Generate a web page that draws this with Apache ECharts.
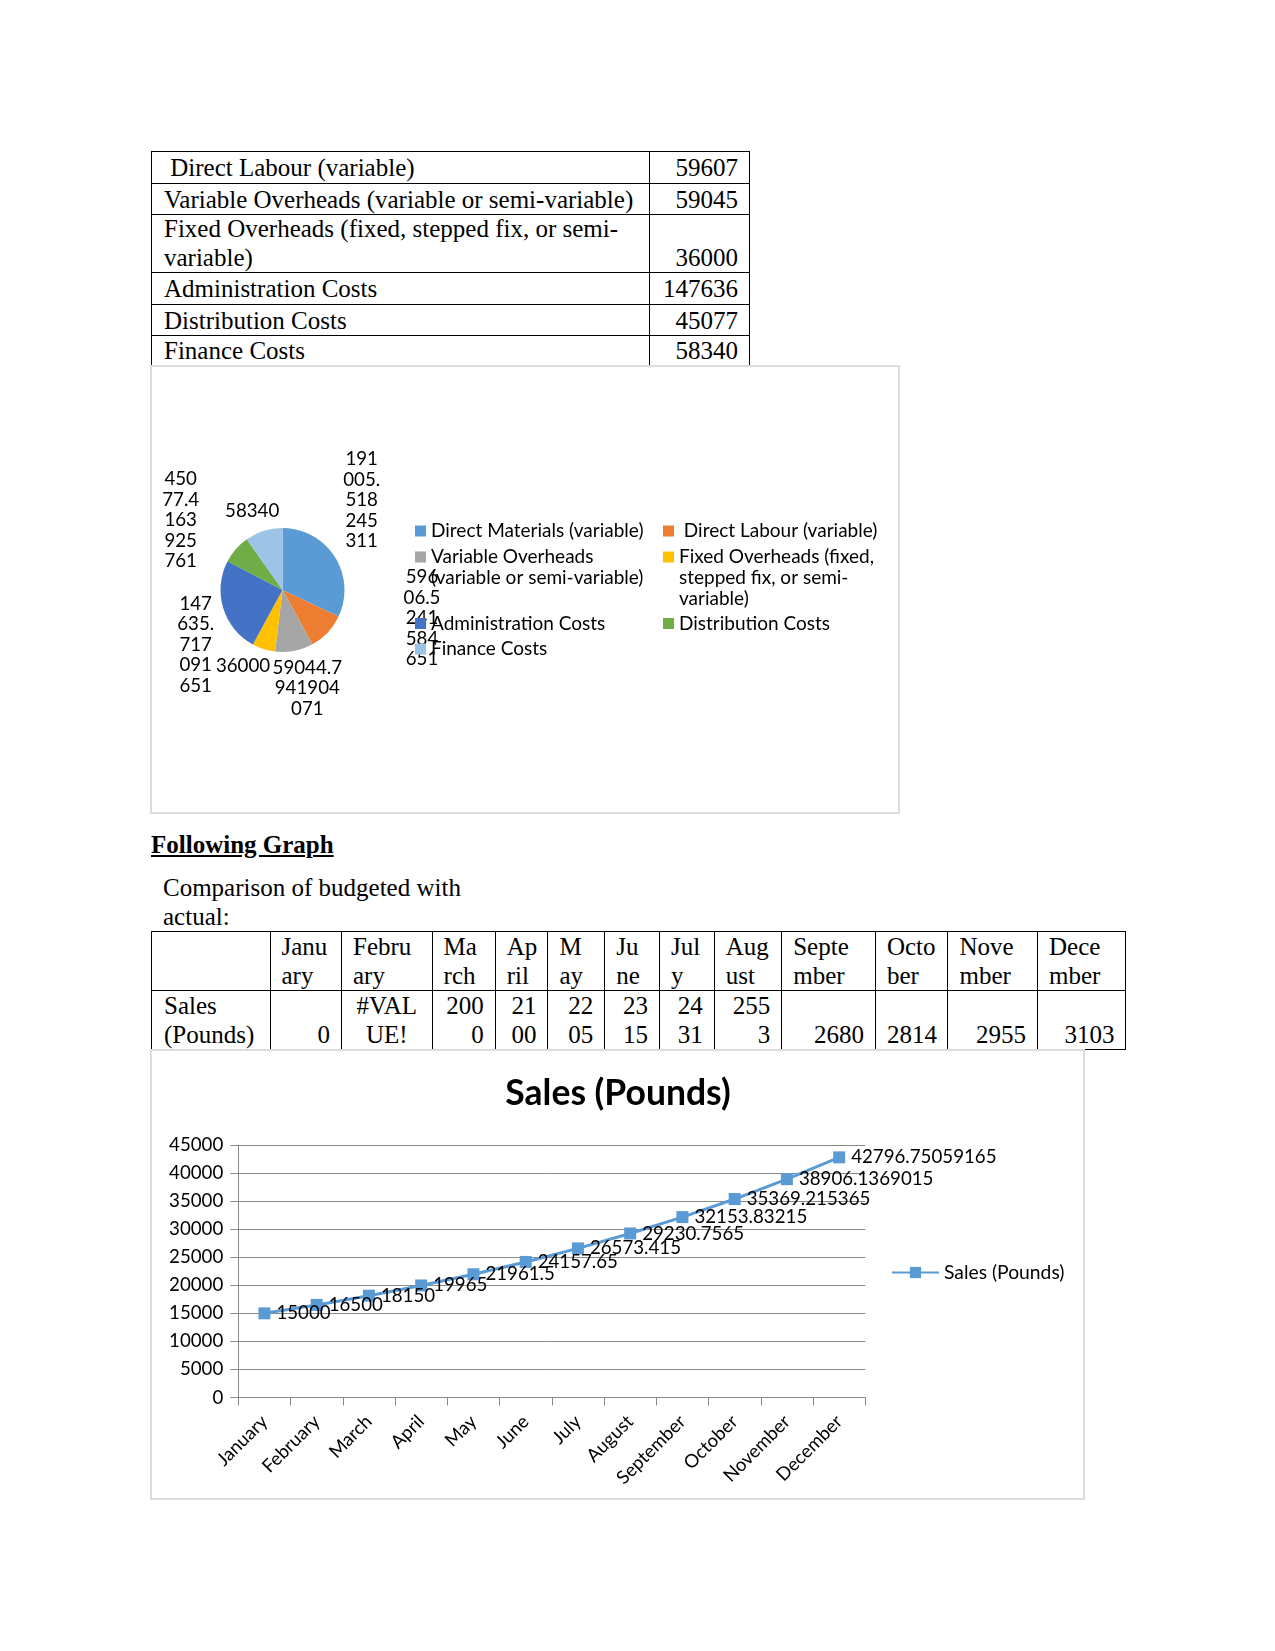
<!DOCTYPE html>
<html>
<head>
<meta charset="utf-8">
<script src="https://cdn.jsdelivr.net/npm/echarts@6/dist/echarts.min.js"></script>
<style>
html,body{margin:0;padding:0;background:#fff;}
body{width:1275px;height:1651px;position:relative;overflow:hidden;font-family:'Liberation Serif','Times New Roman',serif;color:#000;}
.cell{position:absolute;box-sizing:border-box;border-right:1px solid #000;border-bottom:1px solid #000;display:flex;flex-direction:column;justify-content:flex-end;font-size:25px;line-height:28.5px;white-space:pre;padding:0 11px 0 12px;overflow:visible;}
.txt{position:absolute;font-size:25px;line-height:28.5px;white-space:pre;}
.box{position:absolute;box-sizing:border-box;border:2px solid #dcdcdc;}
.chart{position:absolute;}
</style>
</head>
<body>
<div id="t1"></div>
<div class="txt" style="left:151px;top:831px;font-weight:bold;text-decoration:underline;">Following Graph</div>
<div class="txt" style="left:163px;top:874px;">Comparison of budgeted with
actual:</div>
<div id="t2"></div>
<div class="box" style="left:150px;top:365px;width:750px;height:449px;"></div>
<div class="box" style="left:150px;top:1049px;width:935px;height:451px;"></div>
<div id="pie" class="chart" style="left:151px;top:365px;width:749px;height:449px;"></div>
<div id="line" class="chart" style="left:151px;top:1050px;width:934px;height:449px;"></div>
<script>
// ---------- data ----------
const costLabels = [' Direct Labour (variable)', 'Variable Overheads (variable or semi-variable)', 'Fixed Overheads (fixed, stepped fix, or semi-\nvariable)', 'Administration Costs', 'Distribution Costs', 'Finance Costs'];
const costValues = ['59607', '59045', '36000', '147636', '45077', '58340'];

const pieNames = ['Direct Materials (variable)', ' Direct Labour (variable)', 'Variable Overheads (variable or semi-variable)', 'Fixed Overheads (fixed, stepped fix, or semi-variable)', 'Administration Costs', 'Distribution Costs', 'Finance Costs'];
const pieValues = [191005.518245311, 59606.5241584651, 59044.7941904071, 36000, 147635.717091651, 45077.4163925761, 58340];
const pieLegendText = ['Direct Materials (variable)', ' Direct Labour (variable)', 'Variable Overheads\n(variable or semi-variable)', 'Fixed Overheads (fixed,\nstepped fix, or semi-\nvariable)', 'Administration Costs', 'Distribution Costs', 'Finance Costs'];

const tableRowHead = 'Sales\n(Pounds)';
const monthHeaders = ['Janu\nary', 'Febru\nary', 'Ma\nrch', 'Ap\nril', 'M\nay', 'Ju\nne', 'Jul\ny', 'Aug\nust', 'Septe\nmber', 'Octo\nber', 'Nove\nmber', 'Dece\nmber'];
const salesTableCells = ['0', '#VAL\nUE!', '200\n0', '21\n00', '22\n05', '23\n15', '24\n31', '255\n3', '2680', '2814', '2955', '3103'];

const months = ['January', 'February', 'March', 'April', 'May', 'June', 'July', 'August', 'September', 'October', 'November', 'December'];
const sales = [15000, 16500, 18150, 19965, 21961.5, 24157.65, 26573.415, 29230.7565, 32153.83215, 35369.215365, 38906.1369015, 42796.75059165];
const yMin = 0, yMax = 45000, yStep = 5000;

// ---------- layout ----------
const t1Cols = [151, 649, 749];
const t1Rows = [151, 182.5, 214, 272, 303.5, 335, 365.5];
const t2Cols = [151, 269.5, 341, 431.6, 494.8, 547.5, 604.3, 659, 713.8, 781.2, 874.9, 947.5, 1037, 1125.4];
const t2Rows = [931, 990, 1049];

function cell(parent, x0, x1, y0, y1, text, align, first, top) {
  const d = document.createElement('div');
  d.className = 'cell';
  d.style.left = x0 + 'px'; d.style.top = y0 + 'px';
  d.style.width = (x1 - x0 + 1) + 'px'; d.style.height = (y1 - y0 + 1) + 'px';
  if (first) d.style.borderLeft = '1px solid #000';
  if (top) d.style.borderTop = '1px solid #000';
  d.style.textAlign = align;
  d.textContent = text;
  parent.appendChild(d);
}
const t1 = document.getElementById('t1');
costLabels.forEach((lab, i) => {
  cell(t1, t1Cols[0], t1Cols[1], t1Rows[i], t1Rows[i + 1], lab, 'left', true, i === 0);
  cell(t1, t1Cols[1], t1Cols[2], t1Rows[i], t1Rows[i + 1], costValues[i], 'right', false, i === 0);
});
const t2 = document.getElementById('t2');
cell(t2, t2Cols[0], t2Cols[1], t2Rows[0], t2Rows[1], '', 'left', true, true);
cell(t2, t2Cols[0], t2Cols[1], t2Rows[1], t2Rows[2], tableRowHead, 'left', true, false);
monthHeaders.forEach((h, i) => {
  cell(t2, t2Cols[i + 1], t2Cols[i + 2], t2Rows[0], t2Rows[1], h, 'left', false, true);
  const v = salesTableCells[i];
  cell(t2, t2Cols[i + 1], t2Cols[i + 2], t2Rows[1], t2Rows[2], v, v.charAt(0) === '#' ? 'center' : 'right', false, false);
});

// ---------- pie ----------
const pieColors = ['#5B9BD5', '#ED7D31', '#A5A5A5', '#FFC000', '#4472C4', '#70AD47', '#9DC3E6'];
const pieChunk = [3, 3, 6, 0, 3, 3, 0];
const pieLabelPos = [[210.7, 135], [271, 253], [156.3, 323.3], [92, 300.7], [44.7, 279.7], [29.7, 155], [101.2, 146]];
const legendPos = [[264, 166], [512, 166], [264, 192], [512, 192], [264, 258.5], [512, 258.5], [264, 284]];
const LH = 20.7;

function chunkDigits(s, n) {
  if (!n) return s;
  const out = []; let cur = ''; let d = 0;
  for (const ch of s) {
    if (ch === '.') { cur += ch; continue; }
    if (d === n) { out.push(cur); cur = ''; d = 0; }
    cur += ch; d++;
  }
  if (cur) out.push(cur);
  return out.join('\n');
}

const pieLegends = pieNames.map((name, i) => {
  const n = pieLegendText[i].split('\n').length;
  // leading blank lines keep the first text line level with the colour key
  const shown = '\n'.repeat(n - 1) + pieLegendText[i];
  return {
    data: [name],
    left: legendPos[i][0],
    top: legendPos[i][1] - (2 * n - 1) * LH / 2,
    padding: 0,
    icon: 'rect',
    itemWidth: 11,
    itemHeight: 11,
    formatter: () => shown,
    textStyle: { fontFamily: 'Lato', fontSize: 19, lineHeight: LH, color: '#000', backgroundColor: 'transparent' },
    z: 10
  };
});

const pie = echarts.init(document.getElementById('pie'));
pie.setOption({
  animation: false,
  color: pieColors,
  legend: pieLegends,
  series: [{
    type: 'pie',
    center: [131.5, 225],
    radius: 62,
    startAngle: 90,
    clockwise: true,
    avoidLabelOverlap: false,
    data: pieNames.map((n, i) => ({ name: n, value: pieValues[i] })),
    label: {
      show: true,
      position: 'outside',
      formatter: p => chunkDigits(String(p.value), pieChunk[p.dataIndex]),
      fontFamily: 'Lato', fontSize: 18.7, lineHeight: 20.5, color: '#000', align: 'center'
    },
    labelLine: { show: false },
    labelLayout: p => ({ x: pieLabelPos[p.dataIndex][0], y: pieLabelPos[p.dataIndex][1], align: 'center', verticalAlign: 'middle' }),
    itemStyle: { borderWidth: 0 },
    emphasis: { disabled: true }
  }]
});

// ---------- line ----------
const axisGray = '#898989';
const line = echarts.init(document.getElementById('line'));
line.setOption({
  animation: false,
  title: {
    text: 'Sales (Pounds)', left: 'center', top: 26, padding: 0,
    textStyle: { fontFamily: 'Lato', fontWeight: 'bold', fontSize: 35.5, color: '#000' }
  },
  legend: {
    data: ['Sales (Pounds)'], left: 740, top: 213, padding: 0,
    itemWidth: 47, itemHeight: 14,
    textStyle: { fontFamily: 'Lato', fontSize: 19.3, color: '#000' }
  },
  grid: { left: 87.3, top: 95, width: 627, height: 252.5, containLabel: false, outerBoundsMode: 'none' },
  xAxis: {
    type: 'category', data: months, boundaryGap: true,
    axisLine: { show: true, lineStyle: { color: axisGray, width: 1 } },
    axisTick: { show: true, length: 8, interval: 0, lineStyle: { color: axisGray } },
    axisLabel: { rotate: 45, interval: 0, margin: 21, fontFamily: 'Lato', fontSize: 18.5, color: '#000' },
    splitLine: { show: false }
  },
  yAxis: {
    type: 'value', min: yMin, max: yMax, interval: yStep,
    axisLine: { show: true, lineStyle: { color: axisGray, width: 1 } },
    axisTick: { show: true, length: 8, lineStyle: { color: axisGray } },
    splitLine: { show: true, lineStyle: { color: axisGray, width: 1 } },
    axisLabel: { margin: 15, formatter: v => String(v), fontFamily: 'Lato', fontSize: 18.7, color: '#000' }
  },
  series: [{
    type: 'line', name: 'Sales (Pounds)', data: sales,
    symbol: 'rect', symbolSize: 12,
    lineStyle: { width: 3, color: '#5B9BD5' },
    itemStyle: { color: '#5B9BD5' },
    label: { show: true, position: 'right', distance: 6, formatter: p => String(p.value), fontFamily: 'Lato', fontSize: 18.7, color: '#000' },
    emphasis: { disabled: true }
  }]
});
</script>
</body>
</html>
